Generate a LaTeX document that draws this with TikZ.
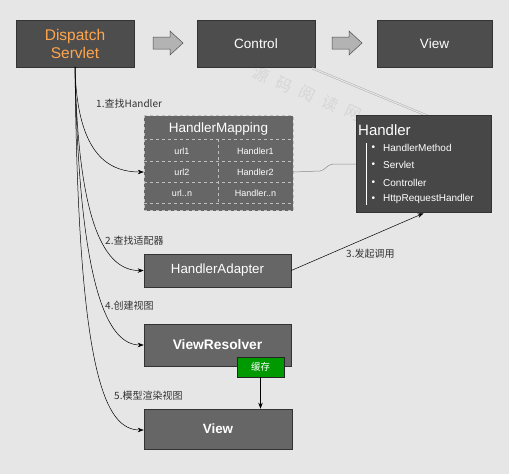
\documentclass[tikz,border=0pt]{standalone}
\usepackage{fontspec}
\setmainfont{Liberation Sans}
\newfontfamily\cjk{Noto Sans CJK SC}
\usetikzlibrary{arrows.meta,calc}
\definecolor{bg}{HTML}{E6E6E6}
\definecolor{darkbox}{HTML}{4D4D4D}
\definecolor{hdbox}{HTML}{474747}
\definecolor{midbox}{HTML}{666666}
\definecolor{orangetxt}{HTML}{FFA64D}
\definecolor{arrowfill}{HTML}{B3B3B3}
\definecolor{greenbox}{HTML}{009900}
\definecolor{wmcol}{HTML}{D6D6D6}
\begin{document}
\begin{tikzpicture}[x=1pt,y=-1pt,
  topbox/.style={draw=black!80,line width=0.6pt,fill=darkbox,minimum width=118pt,minimum height=47pt,inner sep=0pt,text=white,font=\fontsize{13.5}{15}\selectfont},
  midnode/.style={draw=black!80,line width=0.6pt,fill=midbox,minimum width=147pt,inner sep=0pt,text=white},
  cell/.style={text=white,font=\fontsize{9}{10}\selectfont,inner sep=0pt},
  item/.style={text=white,font=\fontsize{10}{11}\selectfont,inner sep=0pt,anchor=west},
  lbl/.style={font=\cjk\fontsize{10}{11}\selectfont,text=black!80,inner sep=0pt,anchor=west},
  conn/.style={-{Stealth[length=6pt,width=4.5pt]},line width=0.5pt,black},
  wmark/.style={rotate=-26,text=wmcol,font=\cjk\fontsize{16}{16}\selectfont,inner sep=0pt},
  blockarrow/.style={draw=black!70,line width=0.5pt,fill=arrowfill}]
\fill[bg] (0,0) rectangle (509,474);
\useasboundingbox (0,0) rectangle (509,474);
% watermark
\foreach \ch [count=\i from 0] in {源,码,阅,读,网}{
  \node[wmark] (wm\i) at ({261+23*\i},{75+9.5*\i}) {\ch};
}
% top row
\node[topbox,text=orangetxt,font=\fontsize{15.5}{18}\selectfont,align=center] (ds) at (75,43.5) {Dispatch\\Servlet};
\node[topbox] (ctrl) at (256,43.5) {Control};
\node[topbox,minimum width=115pt] (vtop) at (434.5,43.5) {View};
\draw[blockarrow] (153,37) -- (170,37) -- (170,31) -- (183,43) -- (170,55) -- (170,49) -- (153,49) -- cycle;
\draw[blockarrow] (332,37) -- (349,37) -- (349,31) -- (362,43) -- (349,55) -- (349,49) -- (332,49) -- cycle;
% double line from Control to Handler
\draw[black!35,line width=0.4pt,double=bg,double distance=1.2pt] ($(ctrl.south east)+(-3,1)$) -- (428,116);
% Handler box
\node[draw=black!80,line width=0.6pt,fill=hdbox,minimum width=135pt,minimum height=97pt,inner sep=0pt] (hd) at (423.5,163.5) {};
\node[anchor=west,text=white,font=\fontsize{15}{16}\selectfont,inner sep=0pt] (hdt) at (358,130) {Handler};
\coordinate (vl1) at (366,143);
\coordinate (vl2) at (366,205);
\draw[white,line width=0.5pt] (vl1) -- (vl2);
\foreach \yy/\tt/\nm in {148/HandlerMethod/a,165/Servlet/b,183/Controller/c,199/HttpRequestHandler/d}{
  \node[item] (bul\nm) at (371.5,\yy) {\textbullet};
  \node[item] (it\nm) at (383,\yy) {\tt};
}
% HandlerMapping table
\node[fill=midbox,minimum width=149pt,minimum height=95pt,inner sep=0pt] (hm) at (218.5,163) {};
\draw[white!75!black,dashed,line width=0.5pt] (hm.north west) rectangle (hm.south east);
\foreach \yy in {139,161,182,203}{\draw[white!75!black,dashed,line width=0.5pt] (144,\yy) -- (293,\yy);}
\draw[white!75!black,dashed,line width=0.5pt] (218,139) -- (218,203);
\node[text=white,font=\fontsize{13.5}{15}\selectfont,inner sep=0pt] (hmt) at (218.5,129) {HandlerMapping};
\node[cell] (u1) at (182,151) {url1};
\node[cell] (h1) at (255.5,151) {Handler1};
\node[cell] (u2) at (182,172) {url2};
\node[cell] (h2) at (255.5,172) {Handler2};
\node[cell] (u3) at (182,193) {url..n};
\node[cell] (h3) at (255.5,193) {Handler..n};
% gray link mapping->handler
\coordinate (hmR) at (293,172);
\coordinate (hdL) at (356,164);
\draw[black!45,line width=0.5pt] (hmR) -- (320,171) .. controls (326,170) and (326,165) .. (333,164) -- (hdL);
% HandlerAdapter, ViewResolver, View
\node[midnode,minimum height=33pt,font=\fontsize{13.3}{15}\selectfont] (ha) at (217.5,270.5) {HandlerAdapter};
\node[midnode,minimum height=42pt,font=\bfseries\fontsize{13.8}{15}\selectfont] (vr) at (217.5,345) {ViewResolver};
\node[midnode,minimum height=40pt,minimum width=148pt,font=\bfseries\fontsize{13.4}{15}\selectfont] (vb) at (218,429) {View};
\node[draw=black!85,line width=0.6pt,fill=greenbox,minimum width=47pt,minimum height=20pt,inner sep=0pt,text=white,font=\cjk\fontsize{9.5}{10}\selectfont] (cache) at (260.5,367) {缓存};
\draw[conn] (cache.south) -- (vb.north -| cache.south);
% 3. call
\draw[conn] (ha.east) -- ($(hd.south)+(0,1)$);
\node[lbl] (l3) at (346,254) {3.发起调用};
% curves from Dispatch
\coordinate (ds0) at (75,67);
\draw[conn] (ds0) .. controls (77,150) and (105,172) .. (hm.west |- hmR);
\draw[conn] (ds0) .. controls (78,225) and (105,271) .. (ha.west);
\draw[conn] (ds0) .. controls (79,290) and (108,345) .. (vr.west);
\draw[conn] (ds0) .. controls (78,375) and (105,430) .. (vb.west |- 0,430);
\node[lbl] (l1) at (96,104) {1.查找Handler};
\node[lbl] (l2) at (105,241) {2.查找适配器};
\node[lbl] (l4) at (105,306) {4.创建视图};
\node[lbl] (l5) at (114,396) {5.模型渲染视图};
\end{tikzpicture}
\end{document}
